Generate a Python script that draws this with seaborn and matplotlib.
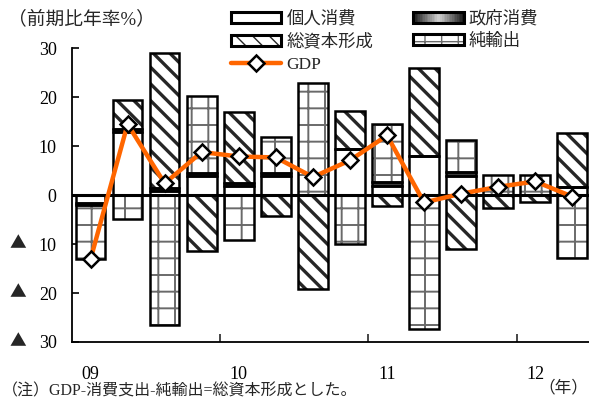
import numpy as np
import pandas as pd
import matplotlib
matplotlib.use("Agg")
import matplotlib.pyplot as plt
import seaborn as sns
from matplotlib.patches import Rectangle, Patch
from matplotlib.lines import Line2D
from matplotlib.legend_handler import HandlerBase

# Quarterly contributions (annualised q/q %), 2009 Q1 onward
year_labels = ["09", "10", "11", "12"]
consumption = [-1.6, 12.9, 0.8, 3.9, 1.9, 3.9, 0.0, 9.4, 1.9, 8.0, 4.0, 0.0, 0.0, 1.6]
government = [-0.5, 0.6, 0.6, 0.6, 0.55, 0.6, 0.0, 0.0, 0.8, 0.0, 0.7, 0.0, 0.0, 0.0]
capital = [0.0, 5.9, 27.6, -11.4, 14.55, -4.2, -19.1, 7.8, -2.25, 18.0, -10.9, -2.6, -1.4, 11.05]
net_exports = [-11.0, -4.9, -26.5, 15.8, -9.2, 7.4, 22.9, -10.0, 11.8, -27.3, 6.6, 4.2, 4.15, -12.75]
gdp = [-13.1, 14.5, 2.4, 8.8, 7.9, 7.7, 3.7, 7.1, 12.2, -1.5, 0.3, 1.7, 2.8, -0.3]

series_names = ["個人消費", "政府消費", "総資本形成", "純輸出"]
df = pd.DataFrame({
    "q": np.arange(len(gdp)),
    "個人消費": consumption,
    "政府消費": government,
    "総資本形成": capital,
    "純輸出": net_exports,
    "GDP": gdp,
})

sns.set_style("white")
plt.rcParams["font.family"] = ["Liberation Serif", "Noto Sans CJK JP", "DejaVu Sans"]
plt.rcParams["axes.unicode_minus"] = False

ORANGE = "#ff6600"
styles = {
    "個人消費": dict(face="white", hatch=None, hcolor="black", hlw=1.0),
    "政府消費": dict(face="#3c3c3c", hatch=None, hcolor="black", hlw=1.0),
    "総資本形成": dict(face="white", hatch="\\\\", hcolor="#262626", hlw=2.4),
    "純輸出": dict(face="white", hatch="+", hcolor="#6a6a6a", hlw=1.4),
}

fig = plt.figure(figsize=(5.89, 4.01), dpi=100)
ax = fig.add_axes([72 / 589, 59 / 401, 517 / 589, (342 - 48.3) / 401])

# stacked bars: positives build up from zero, negatives build down
pos_base = np.zeros(len(df))
neg_base = np.zeros(len(df))
for name in series_names:
    vals = df[name].to_numpy()
    bottoms = np.where(vals >= 0, pos_base, neg_base)
    st = styles[name]
    with plt.rc_context({"hatch.linewidth": st["hlw"]}):
        fill = ax.bar(df["q"], vals, bottom=bottoms, width=0.8,
                      facecolor=st["face"], edgecolor=st["hcolor"],
                      hatch=st["hatch"], linewidth=0, zorder=2)
        for p in fill:
            if hasattr(p, "set_hatch_linewidth"):
                p.set_hatch_linewidth(st["hlw"])
    ax.bar(df["q"], vals, bottom=bottoms, width=0.8, facecolor="none",
           edgecolor="black", linewidth=1.8, zorder=3)
    pos_base = pos_base + np.where(vals >= 0, vals, 0)
    neg_base = neg_base + np.where(vals < 0, vals, 0)

ax.axhline(0, color="black", linewidth=2.2, zorder=4)

sns.lineplot(data=df, x="q", y="GDP", ax=ax, color=ORANGE, linewidth=3.2,
             marker="D", markersize=8, markerfacecolor="white",
             markeredgecolor="black", markeredgewidth=1.8, zorder=6)

ax.set_xlim(-0.5, 13.45)
ax.set_ylim(-30, 30)
ax.set_xlabel("")
ax.set_ylabel("")

for s in ["top", "right"]:
    ax.spines[s].set_visible(False)
for s in ["left", "bottom"]:
    ax.spines[s].set_color("black")
    ax.spines[s].set_linewidth(1.3)

yticks = [-30, -20, -10, 0, 10, 20, 30]
ax.set_yticks(yticks)
ax.set_yticklabels([f"{abs(v)}" for v in yticks], fontsize=13)
ax.tick_params(axis="y", left=True, direction="in", length=5, width=1.2, pad=11,
               colors="black")
# negative values are marked with a leading triangle
for v in yticks:
    if v < 0:
        ax.text(-54 / 517, v, "▲", transform=ax.get_yaxis_transform(),
                fontsize=12, family=["Noto Sans CJK JP", "DejaVu Sans"],
                ha="center", va="center")

ax.set_xticks([0, 4, 8, 12])
ax.set_xticklabels(year_labels, fontsize=13)
ax.set_xticks([3.5, 7.5, 11.5], minor=True)
ax.tick_params(axis="x", which="major", bottom=True, length=0, pad=17, colors="black")
ax.tick_params(axis="x", which="minor", bottom=True, direction="in", length=6, width=1.2)


class LayeredHandler(HandlerBase):
    def __init__(self, layers):
        super().__init__()
        self.layers = layers

    def create_artists(self, legend, orig_handle, xdescent, ydescent, width,
                       height, fontsize, trans):
        return [Rectangle((-xdescent, -ydescent), width, height, transform=trans, **kw)
                for kw in self.layers]


class GradientHandler(HandlerBase):
    def create_artists(self, legend, orig_handle, xdescent, ydescent, width,
                       height, fontsize, trans):
        n = 30
        arts = []
        for k in range(n):
            t = (k + 0.5) / n
            g = 0.08 + 0.75 * (1 - abs(2 * t - 1))
            arts.append(Rectangle((-xdescent + width * k / n, -ydescent), width / n * 1.05,
                                  height, facecolor=str(g), edgecolor="none",
                                  transform=trans))
        arts.append(Rectangle((-xdescent, -ydescent), width, height, facecolor="none",
                              edgecolor="black", linewidth=2.2, transform=trans))
        return arts


h_c = Patch(label="個人消費")
h_g = Patch(label="政府消費")
h_i = Patch(label="総資本形成")
h_nx = Patch(label="純輸出")
h_gdp = Line2D([], [], color=ORANGE, linewidth=3.2, marker="D", markersize=8,
               markerfacecolor="white", markeredgecolor="black", markeredgewidth=1.8)

handler_map = {
    h_c: LayeredHandler([dict(facecolor="white", edgecolor="black", linewidth=2.2)]),
    h_g: GradientHandler(),
    h_i: LayeredHandler([dict(facecolor="white", edgecolor="#262626", hatch="\\\\", linewidth=0),
                         dict(facecolor="none", edgecolor="black", linewidth=2.2)]),
    h_nx: LayeredHandler([dict(facecolor="white", edgecolor="#6a6a6a", hatch="+", linewidth=0),
                          dict(facecolor="none", edgecolor="black", linewidth=2.2)]),
}

fig.legend([h_c, h_i, h_gdp, h_g, h_nx],
           ["個人消費", "総資本形成", "GDP", "政府消費", "純輸出"],
           handler_map=handler_map, loc="upper left",
           bbox_to_anchor=(231 / 589, 1 - 11 / 401), ncol=2, frameon=False,
           fontsize=12.5, handlelength=2.9, handleheight=0.6, handletextpad=0.3,
           columnspacing=2.3, labelspacing=0.36, borderpad=0, borderaxespad=0,
           numpoints=1)

fig.text(8 / 589, 1 - 19 / 401, "（前期比年率%）", fontsize=13.5, va="center", ha="left")
fig.text(2 / 589, 1 - 391 / 401, "（注）GDP-消費支出-純輸出=総資本形成とした。",
         fontsize=11.5, va="center", ha="left")
fig.text(588 / 589, 1 - 388 / 401, "（年）", fontsize=12, va="center", ha="right")

fig.savefig("out.png", dpi=100)
